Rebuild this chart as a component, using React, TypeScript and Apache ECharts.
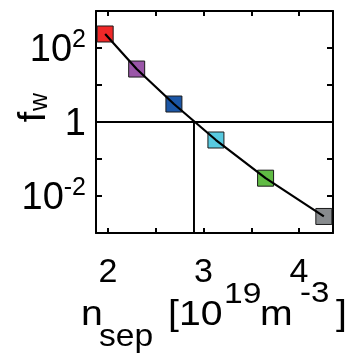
import React, { useEffect, useRef } from 'react';
import * as echarts from 'echarts';

// Data
const densities = [1.97, 2.3, 2.69, 3.13, 3.65, 4.26];
const fwValues = [239, 27, 3.06, 0.326, 0.0303, 0.0028];
const pointColors = ['#f02828', '#9a56a8', '#1b56a6', '#58cae0', '#60bb44', '#888b8e'];
const xTicks = [2, 2.5, 3, 3.5, 4];
const xTickLabels = [2, 3, 4];
const yLabelExponents = [2, 0, -2];
const xRange = [1.874, 4.356];
const yRange = [0.001, 1000];
const crossX = 2.9;
const crossY = 1;

const FONT = '"Liberation Sans", Arial, Helvetica, sans-serif';

export default function App() {
  const ref = useRef<HTMLDivElement>(null);
  useEffect(() => {
    if (!ref.current) return;
    const chart = echarts.init(ref.current, undefined, { renderer: 'svg' });
    const axisLine = { show: true, lineStyle: { color: '#000', width: 2 } };
    const yFormatter = (v: number) => {
      const e = Math.round(Math.log10(v));
      if (!yLabelExponents.includes(e)) return '';
      if (e === 0) return '{b|1}';
      return `{b|10}{s|${e}}`;
    };
    const txt = (text: string, x: number, baseline: number, size: number, sx: number) => ({
      type: 'text',
      x,
      y: baseline - 0.3465 * size,
      scaleX: sx,
      style: { text, fontSize: size, fontFamily: FONT, fill: '#000', align: 'left', verticalAlign: 'middle' },
    });
    chart.setOption({
      animation: false,
      grid: { left: 96, right: 14, top: 11, bottom: 120, containLabel: false },
      xAxis: [
        {
          type: 'value', min: xRange[0], max: xRange[1], position: 'bottom',
          axisLine,
          axisTick: { show: true, inside: true, length: 5, lineStyle: { color: '#000', width: 2 }, customValues: xTicks },
          axisLabel: { show: true, customValues: xTickLabels, fontSize: 34, fontFamily: FONT, color: '#000', margin: 20 },
          splitLine: { show: false },
        },
        {
          type: 'value', min: xRange[0], max: xRange[1], position: 'top',
          axisLine,
          axisTick: { show: true, inside: true, length: 5, lineStyle: { color: '#000', width: 2 }, customValues: xTicks },
          axisLabel: { show: false },
          splitLine: { show: false },
        },
      ],
      yAxis: [
        {
          type: 'log', logBase: 10, min: yRange[0], max: yRange[1], interval: 1, position: 'left',
          axisLine,
          axisTick: { show: true, inside: true, length: 6, lineStyle: { color: '#000', width: 2 } },
          axisLabel: {
            show: true, margin: 10, color: '#000', formatter: yFormatter,
            rich: {
              b: { fontSize: 38, lineHeight: 46, fontFamily: FONT, color: '#000' },
              s: { fontSize: 25, lineHeight: 18, fontFamily: FONT, color: '#000', verticalAlign: 'top' },
            },
          },
          splitLine: { show: false },
          minorTick: { show: false },
        },
        {
          type: 'log', logBase: 10, min: yRange[0], max: yRange[1], interval: 1, position: 'right',
          axisLine,
          axisTick: { show: true, inside: true, length: 6, lineStyle: { color: '#000', width: 2 } },
          axisLabel: { show: false },
          splitLine: { show: false },
        },
      ],
      series: [
        {
          type: 'line', xAxisIndex: 0, yAxisIndex: 0, symbol: 'none', silent: true,
          data: [[xRange[0], crossY], [xRange[1], crossY]],
          lineStyle: { color: '#000', width: 2 }, z: 1,
        },
        {
          type: 'line', xAxisIndex: 0, yAxisIndex: 0, symbol: 'none', silent: true,
          data: [[crossX, crossY], [crossX, yRange[0]]],
          lineStyle: { color: '#000', width: 2 }, z: 1,
        },
        {
          type: 'scatter', xAxisIndex: 0, yAxisIndex: 0, symbol: 'rect', symbolSize: 16, z: 2,
          data: densities.map((x, i) => ({
            value: [x, fwValues[i]],
            itemStyle: { color: pointColors[i], opacity: 1, borderColor: '#1a1a1a', borderWidth: 1 },
          })),
          itemStyle: { borderColor: '#1a1a1a', borderWidth: 1, opacity: 1 },
        },
        {
          type: 'line', xAxisIndex: 0, yAxisIndex: 0, symbol: 'none', z: 3,
          data: densities.map((x, i) => [x, fwValues[i]]),
          lineStyle: { color: '#000', width: 2.2 },
        },
      ],
      graphic: [
        { type: 'text', x: 32, y: 117, rotation: Math.PI / 2,
          style: { text: 'f', fontSize: 38, fontFamily: FONT, fill: '#000', align: 'center', verticalAlign: 'middle' } },
        { type: 'text', x: 37.5, y: 102, rotation: Math.PI / 2,
          style: { text: 'w', fontSize: 25, fontFamily: FONT, fill: '#000', align: 'center', verticalAlign: 'middle' } },
        txt('n', 81, 325, 35, 1.12),
        txt('sep', 99, 346, 32, 1.05),
        txt('[10', 168, 325, 35, 1.12),
        txt('19', 224, 303, 30, 1.12),
        txt('m', 260, 325, 35, 1.12),
        txt('-3', 300, 302, 30, 1.1),
        txt(']', 336, 325, 35, 1.12),
      ],
    });
    return () => chart.dispose();
  }, []);
  return <div ref={ref} style={{ position: 'fixed', left: 0, top: 0, width: 347, height: 353 }} />;
}
